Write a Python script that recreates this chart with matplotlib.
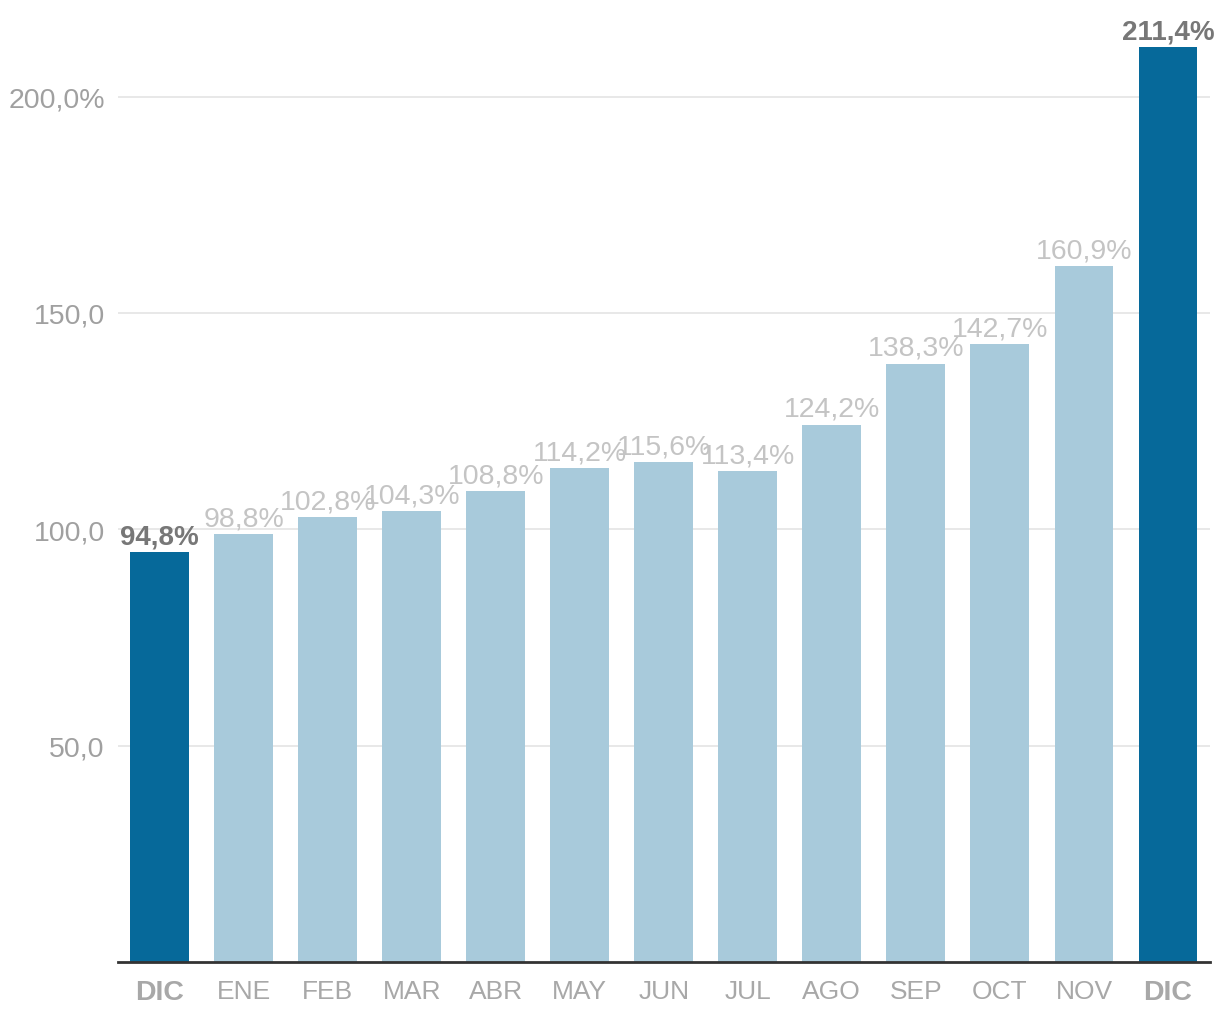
import matplotlib
matplotlib.use("Agg")
import matplotlib.pyplot as plt

months = ["DIC", "ENE", "FEB", "MAR", "ABR", "MAY", "JUN", "JUL", "AGO", "SEP", "OCT", "NOV", "DIC"]
values = [94.8, 98.8, 102.8, 104.3, 108.8, 114.2, 115.6, 113.4, 124.2, 138.3, 142.7, 160.9, 211.4]
highlight = [True] + [False] * 11 + [True]
yticks = [50, 100, 150, 200]
ytick_labels = ["50,0", "100,0", "150,0", "200,0%"]

plt.rcParams['font.family'] = ['Liberation Sans', 'DejaVu Sans']

dark = "#06699a"
light = "#a8cadb"

fig = plt.figure(figsize=(12.2, 10.2), dpi=100)
ax = fig.add_axes([118/1220, 57/1020, (1210-118)/1220, (963-11)/1020])

x = list(range(len(values)))
colors = [dark if h else light for h in highlight]
ax.bar(x, values, width=0.70, color=colors, zorder=2)

# value labels above each bar
for xi, v, h in zip(x, values, highlight):
    lab = f"{v:.1f}%".replace(".", ",")
    if h:
        ax.text(xi, v + 2.0, lab, ha="center", va="baseline", fontsize=20,
                fontweight="bold", color="#777777", zorder=3)
    else:
        ax.text(xi, v + 2.0, lab, ha="center", va="baseline", fontsize=20.5,
                color="#c4c4c4", zorder=3)

ax.set_xlim(-0.494, 12.5)
ax.set_ylim(0, 220)
ax.set_yticks(yticks)
ax.set_yticklabels(ytick_labels, fontsize=20.5, color="#a0a0a0")
ax.set_xticks(x)
ax.set_xticklabels(months, fontsize=19, color="#a8a8a8")
for t, h in zip(ax.get_xticklabels(), highlight):
    if h:
        t.set_fontweight("bold")
        t.set_fontsize(20.5)
ax.tick_params(axis="both", length=0)
ax.tick_params(axis="y", pad=9.5)
ax.tick_params(axis="x", pad=12)

ax.grid(axis="y", color="#e4e4e4", linewidth=1.2, zorder=0)
for s in ["top", "right", "left"]:
    ax.spines[s].set_visible(False)
ax.spines["bottom"].set_color("#333333")
ax.spines["bottom"].set_linewidth(2)
ax.spines["bottom"].set_zorder(4)

fig.savefig("out.png", dpi=100)
